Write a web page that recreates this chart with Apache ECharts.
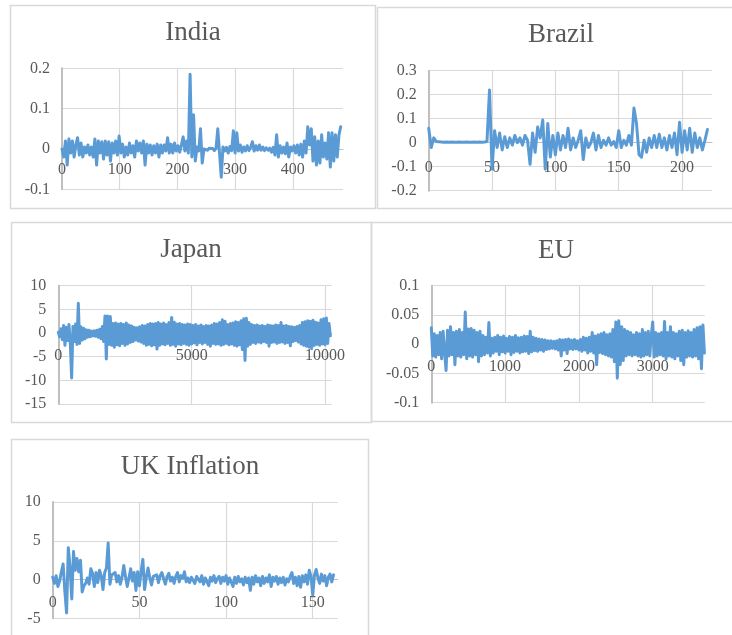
<!DOCTYPE html>
<html>
<head>
<meta charset="utf-8">
<script src="https://cdn.jsdelivr.net/npm/echarts@6/dist/echarts.min.js"></script>
<style>
  html, body { margin: 0; padding: 0; background: #fff; }
  #chart { width: 732px; height: 635px; }
</style>
</head>
<body>
<div id="chart"></div>
<script>
// Return series, one value every `step` observations.
const indiaStep = 3;
const india = [
  0.0,-0.02,0.02,-0.04,0.025,-0.01,0.02,-0.02,0.01,0.028,
  -0.015,0.015,-0.02,0.005,-0.01,0.01,-0.015,0.005,-0.02,0.025,
  -0.04,0.02,-0.01,0.018,-0.025,0.02,-0.015,0.018,-0.03,0.015,
  -0.01,0.02,-0.015,0.032,-0.01,0.012,-0.02,0.005,-0.015,0.015,
  -0.01,0.008,-0.02,0.02,-0.005,0.015,-0.01,0.02,-0.04,0.012,
  -0.01,0.01,-0.015,0.008,-0.01,0.012,-0.02,0.01,-0.01,0.01,
  -0.005,0.028,-0.01,0.012,-0.01,0.015,-0.005,0.008,-0.008,0.01,
  0.03,-0.005,0.02,-0.01,0.185,-0.02,0.085,-0.03,0.005,-0.005,
  0.05,-0.035,0.0,0.003,-0.003,0.002,-0.002,0.001,-0.004,0.002,
  0.05,-0.01,-0.07,0.005,-0.005,0.004,-0.01,0.006,-0.004,0.045,
  -0.01,0.04,-0.005,0.01,-0.008,0.005,-0.005,0.008,-0.004,0.004,
  0.018,-0.005,0.008,-0.003,0.01,-0.003,0.005,-0.004,0.003,-0.003,
  0.002,-0.008,0.004,-0.015,0.035,-0.02,0.008,-0.01,0.005,-0.012,
  0.015,-0.02,0.005,-0.005,0.008,-0.01,0.01,-0.015,0.012,-0.02,
  0.02,-0.01,0.055,0.01,0.05,-0.03,0.03,-0.04,0.02,-0.035,
  0.035,-0.02,0.015,-0.025,0.04,-0.045,0.04,-0.03,0.035,-0.02,
  0.035,0.055
];

const brazilStep = 2;
const brazil = [
  0.06,-0.02,0.02,0.005,0.004,0.003,0.002,0.003,0.002,0.003,
  0.002,0.002,0.003,0.002,0.002,0.003,0.002,0.002,0.003,0.002,
  0.003,0.002,0.003,0.005,0.22,-0.11,0.05,-0.02,0.04,-0.03,
  0.025,-0.02,0.02,-0.01,0.03,0.0,0.02,-0.01,0.03,0.01,
  -0.09,0.04,-0.04,0.065,0.02,0.095,-0.11,0.08,-0.06,0.03,
  -0.05,0.04,-0.03,0.03,-0.02,0.06,-0.03,0.02,-0.02,0.01,
  0.05,-0.07,0.02,-0.02,0.0,0.04,-0.03,0.03,-0.02,0.01,
  -0.01,0.02,-0.01,0.005,-0.02,0.05,-0.02,0.01,-0.01,0.03,
  -0.01,0.145,0.08,-0.05,-0.06,0.01,-0.04,0.02,-0.02,0.03,
  -0.02,0.035,-0.02,0.02,-0.03,0.03,-0.02,0.04,-0.05,0.085,
  -0.04,0.05,-0.03,0.06,-0.04,0.04,-0.02,0.02,-0.03,0.01,
  0.055
];

const japanStep = 50;
const japan = [
  0.2,-0.8,0.9,-1.4,1.6,-2.6,1.2,-1.6,1.8,-2.2,
  -9.5,1.4,-1.8,1.9,-2.4,6.3,-2.2,1.3,-1.5,1.0,
  -1.2,0.7,-0.9,0.6,-0.8,0.4,-0.6,0.5,-0.7,0.6,
  -0.9,0.8,-1.2,1.4,-1.8,3.6,-5.5,3.6,-2.4,3.5,
  -2.6,2.0,-3.0,2.1,-2.5,1.9,-2.7,2.0,-2.2,1.8,
  -2.6,2.1,-2.3,1.7,-2.0,1.5,-1.8,1.2,-1.5,1.1,
  -1.7,1.3,-1.9,1.6,-2.2,1.5,-2.6,1.8,-2.4,2.0,
  -2.7,1.9,-2.5,2.0,-3.4,2.2,-2.6,1.9,-2.3,2.1,
  -2.5,1.8,-2.2,2.2,-2.6,3.3,-2.4,2.3,-2.8,1.9,
  -2.3,2.0,-2.5,1.8,-2.2,1.7,-2.4,1.9,-2.6,1.8,
  -2.3,1.6,-2.1,1.8,-2.5,1.5,-2.0,1.7,-2.3,1.4,
  -2.0,1.6,-2.4,1.5,-2.8,1.7,-2.2,2.0,-2.4,1.9,
  -2.3,2.2,-2.6,2.8,-2.4,2.5,-2.2,1.8,-2.5,2.0,
  -2.3,2.1,-2.6,2.4,-2.8,2.2,-2.5,2.6,-3.5,3.0,
  -5.8,3.1,-2.8,2.2,-2.4,1.8,-2.0,1.6,-2.2,1.7,
  -1.9,1.5,-2.1,1.6,-1.8,1.4,-2.0,1.7,-2.8,1.6,
  -2.0,1.5,-1.9,1.7,-2.2,1.6,-2.0,2.2,-1.9,1.5,
  -2.2,1.6,-2.0,1.4,-2.7,1.3,-1.8,1.2,-1.6,1.4,
  -1.9,1.6,-2.3,2.2,-2.6,2.4,-2.8,2.6,-3.0,2.5,
  -3.3,2.7,-2.6,2.3,-2.4,2.1,-2.6,2.8,-2.3,3.0,
  -2.5,3.2,-2.2,2.0,-0.6
];

const euStep = 20;
const eu = [
  0.028,-0.02,0.018,-0.022,0.015,-0.018,0.02,-0.025,0.022,0.02,
  -0.045,0.024,-0.02,0.03,-0.018,0.02,-0.035,0.022,-0.02,0.025,
  -0.022,0.02,-0.018,0.055,-0.025,0.026,-0.02,0.027,-0.022,0.024,
  -0.018,0.02,-0.03,0.022,-0.02,0.015,-0.018,0.012,-0.015,0.037,
  -0.02,0.01,-0.015,0.012,-0.012,0.015,-0.018,0.012,-0.013,0.014,
  -0.015,0.01,-0.012,0.013,-0.018,0.012,-0.014,0.015,-0.012,0.011,
  -0.015,0.012,-0.013,0.014,-0.012,0.013,-0.016,0.022,-0.013,0.012,
  -0.011,0.01,-0.012,0.009,-0.01,0.008,-0.012,0.007,-0.009,0.006,
  -0.008,0.006,-0.007,0.005,-0.008,0.006,-0.01,0.008,-0.02,0.007,
  -0.01,0.008,-0.016,0.009,-0.008,0.007,-0.009,0.008,-0.008,0.006,
  -0.01,0.008,-0.012,0.012,-0.01,0.01,-0.015,0.012,-0.012,0.02,
  -0.015,0.014,-0.035,0.016,-0.014,0.018,-0.016,0.02,-0.018,0.016,
  -0.02,0.018,-0.022,0.025,-0.03,0.038,-0.058,0.04,-0.035,0.03,
  -0.028,0.025,-0.02,0.022,-0.018,0.02,-0.02,0.016,-0.018,0.02,
  -0.02,0.018,-0.022,0.025,-0.02,0.02,-0.018,0.022,-0.02,0.015,
  0.038,-0.022,0.02,-0.02,0.018,-0.018,0.02,-0.02,0.039,-0.025,
  0.02,-0.02,0.03,-0.022,0.02,-0.025,0.018,-0.02,0.022,-0.028,
  0.024,-0.035,0.02,-0.022,0.023,-0.02,0.02,-0.022,0.025,-0.02,
  0.028,-0.025,0.03,-0.042,0.033,-0.015
];

const ukStep = 1;
const ukInflation = [
  0.3,-0.5,0.5,-0.9,-0.2,1.0,2.0,-1.5,-4.3,4.1,
  1.5,-2.5,3.6,1.2,2.7,1.0,2.5,-1.6,-0.8,-0.5,
  0.2,-0.6,1.4,0.8,-0.9,0.9,-0.4,1.2,0.5,-1.3,
  0.9,1.5,4.7,-0.6,0.6,0.4,0.9,-0.3,0.5,-0.6,
  0.3,1.8,0.4,-0.9,0.2,1.4,-0.2,0.9,-1.4,1.0,
  -0.8,1.0,2.6,-1.3,0.3,1.5,0.2,-0.7,0.4,0.2,
  0.6,-0.4,0.5,0.9,0.1,-0.6,0.4,0.8,-0.2,0.3,
  -0.5,0.4,0.9,-0.3,0.5,0.2,1.0,-0.3,0.2,-0.4,
  0.3,0.1,-0.5,0.4,0.2,-0.3,0.5,-0.6,0.2,0.4,
  -0.8,0.3,-0.2,0.5,-0.4,0.1,0.4,-0.5,0.3,-0.2,
  0.5,-0.6,0.2,0.4,-0.9,0.3,-0.5,0.4,-0.3,0.1,
  -0.7,0.3,-0.4,0.2,-1.4,0.3,-0.6,0.5,-0.3,0.2,
  -0.8,0.4,-0.5,0.2,-0.3,0.6,-0.9,0.3,-0.2,0.4,
  -0.6,0.2,-0.4,0.3,-0.7,0.1,-0.3,0.4,0.9,-0.5,
  0.3,-0.8,0.4,-1.0,0.5,-0.3,0.6,-0.6,1.2,0.4,
  -2.0,0.6,1.3,0.2,-0.5,0.7,-0.2,0.5,-0.8,0.3,
  0.7,-0.3,0.6
];

// Panel layout: frame, plot area, title placement and label gap for each small chart.
const panels = [
  { name: 'India', values: india, step: indiaStep,
    xMax: 487, xInterval: 100, yMin: -0.1, yMax: 0.2, yInterval: 0.1,
    frame: [10.5, 5.5, 365, 203], plot: { left: 62, top: 68.3, width: 281, height: 121 },
    titlePos: [193, 32.5], labelGap: 13 },
  { name: 'Brazil', values: brazil, step: brazilStep,
    xMax: 223.6, xInterval: 50, yMin: -0.2, yMax: 0.3, yInterval: 0.1,
    frame: [377.5, 7.5, 370, 201], plot: { left: 428.7, top: 70.7, width: 283.3, height: 120 },
    titlePos: [561, 35], labelGap: 17 },
  { name: 'Japan', values: japan, step: japanStep,
    xMax: 10250, xInterval: 5000, yMin: -15, yMax: 10, yInterval: 5,
    frame: [11.5, 222.5, 360, 200], plot: { left: 58.3, top: 285.7, width: 273.4, height: 118.3 },
    titlePos: [191, 250], labelGap: 15 },
  { name: 'EU', values: eu, step: euStep,
    xMax: 3704, xInterval: 1000, yMin: -0.1, yMax: 0.1, yInterval: 0.05,
    frame: [371.5, 222.5, 370, 199], plot: { left: 431.3, top: 285.7, width: 273.4, height: 117 },
    titlePos: [556, 250.5], labelGap: 14.5 },
  { name: 'UK Inflation', values: ukInflation, step: ukStep,
    xMax: 164.4, xInterval: 50, yMin: -5, yMax: 10, yInterval: 5,
    frame: [11.5, 439.5, 357, 210], plot: { left: 52.7, top: 502, width: 285, height: 116.3 },
    titlePos: [190, 467], labelGap: 15 }
];

const textGray = '#595959';
const gridGray = '#d9d9d9';
const axisGray = '#bfbfbf';
const lineBlue = '#5b9bd5';
const tickFont = { fontFamily: 'Liberation Serif', fontSize: 16, color: textGray };

const option = {
  animation: false,
  backgroundColor: '#ffffff',
  title: [], grid: [], xAxis: [], yAxis: [], series: [], graphic: []
};

panels.forEach((p, i) => {
  // distance from the bottom of the plot up to the y = 0 line
  const zeroRise = p.plot.height * (0 - p.yMin) / (p.yMax - p.yMin);

  option.graphic.push({
    type: 'rect', silent: true, z: -1,
    shape: { x: p.frame[0], y: p.frame[1], width: p.frame[2], height: p.frame[3] },
    style: { fill: 'none', stroke: gridGray, lineWidth: 1.5 }
  });
  option.title.push({
    text: p.name, left: p.titlePos[0], top: p.titlePos[1], padding: 0,
    textAlign: 'center', textVerticalAlign: 'middle',
    textStyle: { fontFamily: 'Liberation Serif', fontSize: 27, fontWeight: 'normal', color: textGray }
  });
  option.grid.push(Object.assign({ containLabel: false }, p.plot));
  option.xAxis.push({
    type: 'value', gridIndex: i, min: 0, max: p.xMax, interval: p.xInterval,
    position: 'bottom', offset: -zeroRise,
    axisLine: { show: true, onZero: false, lineStyle: { color: axisGray, width: 1.2 } },
    axisTick: { show: false },
    axisLabel: Object.assign({
      margin: p.labelGap, showMinLabel: true, showMaxLabel: false,
      formatter: v => String(v)
    }, tickFont),
    splitLine: { show: true, showMinLine: false, showMaxLine: false, lineStyle: { color: gridGray, width: 1.2 } }
  });
  option.yAxis.push({
    type: 'value', gridIndex: i, min: p.yMin, max: p.yMax, interval: p.yInterval,
    axisLine: { show: true, onZero: false, lineStyle: { color: axisGray, width: 2 } },
    axisTick: { show: false },
    axisLabel: Object.assign({ margin: 12 }, tickFont),
    splitLine: { show: true, lineStyle: { color: gridGray, width: 1.2 } }
  });
  option.series.push({
    type: 'line', name: p.name, xAxisIndex: i, yAxisIndex: i,
    data: p.values.map((v, k) => [k * p.step, v]),
    symbol: 'none', showSymbol: false, silent: true,
    lineStyle: { color: lineBlue, width: 3, join: 'round', cap: 'round' }
  });
});

const chart = echarts.init(document.getElementById('chart'), null, { renderer: 'canvas' });
chart.setOption(option);
</script>
</body>
</html>
